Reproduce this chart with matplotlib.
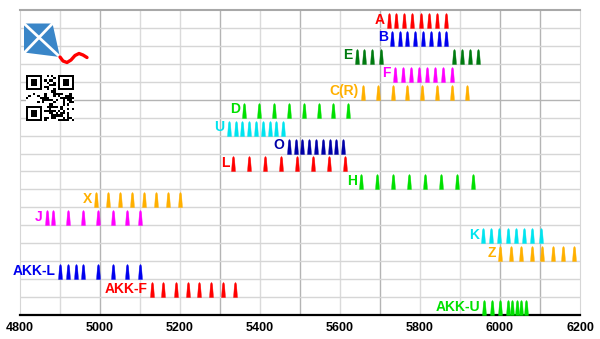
import numpy as np
import matplotlib
matplotlib.use("Agg")
import matplotlib.pyplot as plt
from matplotlib.path import Path
from matplotlib.patches import Polygon

# series names, top row first
names = ["A", "B", "E", "F", "C(R)", "D", "U", "O", "L", "H", "X", "J",
         "K", "Z", "AKK-L", "AKK-F", "AKK-U"]

A = [5722, 5741, 5760, 5780, 5802, 5822, 5843, 5865]
B = [5730, 5749, 5768, 5788, 5808, 5828, 5848, 5866]
E = [5642, 5660, 5681, 5702, 5884, 5904, 5925, 5945]
F = [5738, 5758, 5778, 5798, 5818, 5838, 5858, 5879]
C_R = [5658, 5696, 5732, 5768, 5806, 5843, 5880, 5917]
D = [5361, 5398, 5435, 5473, 5510, 5548, 5583, 5621]
U = [5322, 5339, 5356, 5373, 5390, 5407, 5424, 5441, 5458]
O = [5472, 5489, 5506, 5523, 5540, 5557, 5574, 5591, 5608]
L = [5333, 5373, 5413, 5453, 5492, 5532, 5572, 5612]
H = [5653, 5693, 5733, 5773, 5813, 5853, 5893, 5933]
X = [4990, 5019, 5050, 5079, 5110, 5139, 5169, 5200]
J = [4867, 4883, 4921, 4958, 4996, 5032, 5068, 5100]
K = [5957, 5978, 5998, 6019, 6040, 6061, 6081, 6102]
Z = [6000, 6027, 6053, 6079, 6106, 6132, 6158, 6185]
AKK_L = [4900, 4921, 4940, 4958, 4996, 5032, 5068, 5100]
AKK_F = [5129, 5158, 5189, 5219, 5248, 5278, 5308, 5338]
AKK_U = [5960, 5979, 6000, 6020, 6031, 6042, 6053, 6064]

values = [A, B, E, F, C_R, D, U, O, L, H, X, J, K, Z, AKK_L, AKK_F, AKK_U]

x_ticks = [4800, 5000, 5200, 5400, 5600, 5800, 6000, 6200]

RED, BLUE, NAVY = "#ff0000", "#0000ee", "#0000a8"
DKGREEN, GREEN = "#007a10", "#00e000"
MAGENTA, ORANGE, CYAN = "#ff00ff", "#ffb000", "#00e4ef"
colors = [RED, BLUE, DKGREEN, MAGENTA, ORANGE, GREEN, CYAN, NAVY, RED, GREEN,
          ORANGE, MAGENTA, CYAN, ORANGE, BLUE, RED, GREEN]

# thin spike marker, base sits on the data point
spike = Path([(-0.13, 0), (0.13, 0), (0.07, 0.85), (0.035, 0.97), (0, 1),
              (-0.035, 0.97), (-0.07, 0.85), (-0.13, 0)], closed=True)

fig = plt.figure(figsize=(6, 3.39), dpi=100)
ax = fig.add_axes([20 / 600, 24 / 339, 560 / 600, 305 / 339])

n = len(names)
ax.set_xlim(4800, 6200)
ax.set_ylim(0, n)

# grid (some lines look darker in the original)
for gx in range(4900, 6200, 100):
    dark = gx in (5000, 5300, 5500, 5700, 6000, 6100)
    ax.axvline(gx, color="#b4b4b4" if dark else "#dadada", lw=1, zorder=0)
for gy in range(1, n):
    ax.axhline(gy, color="#b4b4b4" if gy == 12 else "#d6d6d6", lw=1, zorder=0)

for i, (name, vals, c) in enumerate(zip(names, values, colors)):
    row = n - 1 - i
    ax.plot(vals, [row] * len(vals), ls="none", marker=spike, ms=21.5,
            mfc=c, mec=c, mew=0.3, zorder=3)
    ax.annotate(name, (vals[0], row + 0.47), xytext=(-3, 0),
                textcoords="offset points", ha="right", va="center",
                color=c, fontsize=10, fontweight="bold",
                family="Liberation Sans")

ax.set_yticks([])
ax.set_xticks(x_ticks)
ax.set_xticklabels([str(t) for t in x_ticks], fontsize=9, fontweight="bold",
                   family="Liberation Sans")
ax.tick_params(axis="x", length=0, pad=5)
ax.spines["bottom"].set_color("black")
ax.spines["bottom"].set_linewidth(1.6)
ax.spines["top"].set_color("#a8a8a8")
ax.spines["top"].set_linewidth(1.5)
ax.spines["left"].set_color("#d6d6d6")
ax.spines["right"].set_color("#d6d6d6")

# logo overlay in pixel coordinates
lg = fig.add_axes([0, 0, 1, 1], zorder=5)
lg.axis("off")
lg.patch.set_alpha(0)

kite = [(24, 23.5), (52.5, 23.5), (60, 57), (24, 52.5)]
lg.add_patch(Polygon(kite, closed=True, fc="#3a86c8", ec="none"))
lg.plot([24, 60], [23.5, 57], color="white", lw=2)
lg.plot([52.5, 25], [23.5, 52], color="white", lw=2)
tail_x = [60, 63, 67, 71, 75, 79, 83, 87]
tail_y = [57, 61, 62.5, 60, 55.5, 53.5, 55, 57.5]
lg.plot(tail_x, tail_y, color="red", lw=2.4, solid_capstyle="round")

# qr-like block (decoration only)
m = 21
qr = np.zeros((m, m))
for r in range(m):
    for c in range(m):
        h = (r * 73856093) ^ (c * 19349663) ^ (r * c * 83492791)
        qr[r, c] = 1 if (h >> 3) % 5 < 2 else 0
for (r0, c0) in [(0, 0), (0, m - 7), (m - 7, 0)]:
    blk = np.ones((7, 7))
    blk[1:6, 1:6] = 0
    blk[2:5, 2:5] = 1
    qr[max(r0 - 1, 0):r0 + 8, max(c0 - 1, 0):c0 + 8] = 0
    qr[r0:r0 + 7, c0:c0 + 7] = blk
lg.imshow(qr, cmap="Greys", extent=(26, 74, 121, 75), interpolation="nearest",
          vmin=0, vmax=1)
lg.set_xlim(0, 600)
lg.set_ylim(339, 0)

fig.savefig("out.png", dpi=100)
